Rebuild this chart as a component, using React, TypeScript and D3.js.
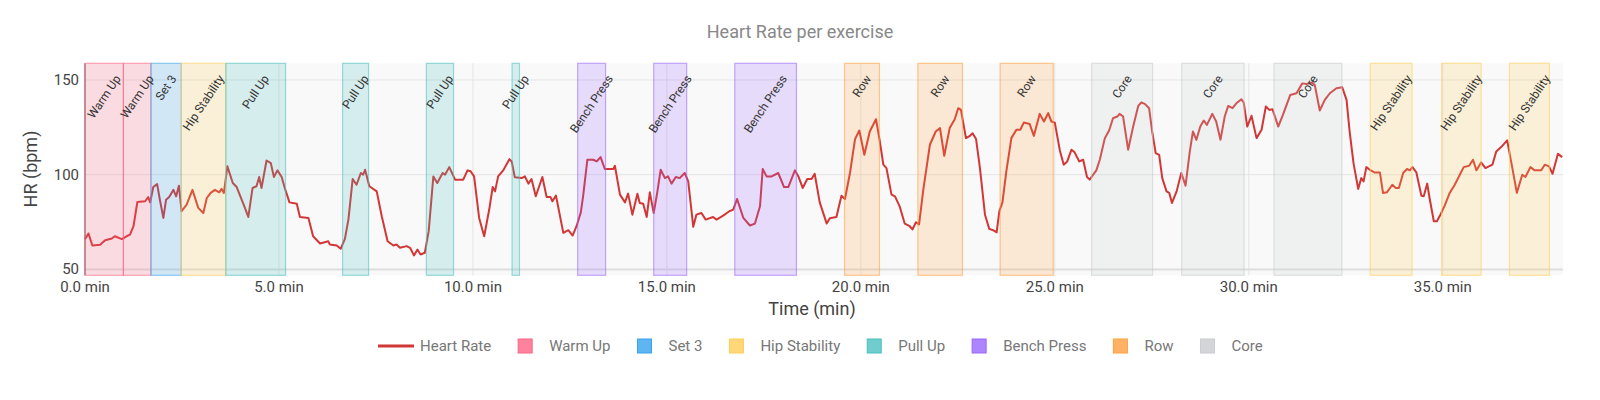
import React from 'react'
import * as d3 from 'd3'

// heart rate samples (minutes, bpm)
const timeMin = [
  0, 0.09, 0.19, 0.39, 0.52, 0.69, 0.77, 0.95, 1.07, 1.16, 1.25, 1.35, 1.55, 1.63, 1.68, 1.76, 1.86, 1.93, 2.02, 2.09,
  2.17, 2.28, 2.35, 2.42, 2.49, 2.62, 2.77, 2.92, 3.05, 3.14, 3.24, 3.35, 3.46, 3.52, 3.58, 3.67, 3.81, 3.91, 4.08, 4.21,
  4.32, 4.42, 4.49, 4.55, 4.68, 4.79, 4.87, 4.96, 5.07, 5.15, 5.27, 5.46, 5.54, 5.76, 5.88, 6.06, 6.27,
  6.31, 6.49, 6.59, 6.7, 6.79, 6.9, 7.0, 7.11, 7.17, 7.22, 7.33, 7.52, 7.65, 7.8, 7.95, 8.03, 8.12, 8.29, 8.38, 8.48,
  8.57, 8.65, 8.76, 8.86, 8.98, 9.08, 9.22, 9.28, 9.39, 9.54, 9.75, 9.86, 9.94, 10.03, 10.16, 10.29, 10.42, 10.51, 10.57,
  10.65, 10.79, 10.94, 11.0, 11.08, 11.26, 11.34, 11.43, 11.51, 11.62, 11.79, 11.9, 12.0, 12.05, 12.14, 12.33, 12.46,
  12.57, 12.67,
  12.78, 12.84, 12.95, 13.1, 13.19, 13.29, 13.4, 13.62, 13.66, 13.79, 13.92, 14.0, 14.11, 14.24, 14.3, 14.39, 14.48,
  14.56, 14.66, 14.75, 14.84, 14.95, 15.03, 15.12, 15.23, 15.33, 15.46, 15.55, 15.68, 15.76, 15.89, 16.0, 16.19, 16.28,
  16.45, 16.61, 16.71, 16.81, 16.97, 17.14, 17.27, 17.4, 17.47, 17.57, 17.7, 17.87, 18.02, 18.13, 18.3, 18.39, 18.5,
  18.62, 18.73, 18.81, 18.94, 19.12, 19.2,
  19.37, 19.5, 19.59, 19.72, 19.85, 19.96, 20.09, 20.23, 20.39, 20.48, 20.58, 20.66, 20.79, 20.88, 21.0, 21.13, 21.26,
  21.33, 21.42, 21.5, 21.61, 21.78, 21.93, 22.04, 22.15, 22.29, 22.42, 22.51, 22.58, 22.71, 22.79, 22.88, 22.97, 23.07,
  23.2, 23.31, 23.41, 23.5, 23.57, 23.65, 23.75, 23.88, 24.01, 24.11, 24.2, 24.35, 24.46, 24.61, 24.72, 24.83, 24.91,
  25.0, 25.13, 25.23, 25.32, 25.43, 25.51, 25.63,
  25.73, 25.83, 25.9, 25.99, 26.07, 26.16, 26.29, 26.4, 26.5, 26.61, 26.67, 26.76, 26.89, 27.02, 27.15, 27.23, 27.32,
  27.43, 27.51, 27.6, 27.69, 27.77, 27.88, 27.95, 28.02, 28.14, 28.26, 28.37, 28.48, 28.56, 28.65, 28.75, 28.84, 28.92,
  29.06, 29.16, 29.27, 29.38, 29.47, 29.58, 29.68, 29.81, 29.87, 29.96, 30.07, 30.2, 30.33, 30.44, 30.53, 30.61, 30.76,
  30.88, 31.07, 31.23, 31.38, 31.49, 31.62, 31.7, 31.76, 31.83, 31.96, 32.09,
  32.26, 32.41, 32.52, 32.6, 32.7, 32.82, 32.9, 32.96, 33.03, 33.12, 33.24, 33.38, 33.46, 33.56, 33.7, 33.79, 33.87,
  33.98, 34.08, 34.15, 34.22, 34.32, 34.45, 34.51, 34.6, 34.66, 34.77, 34.85, 34.94, 35.05, 35.18, 35.31, 35.44, 35.54,
  35.68, 35.78, 35.87, 35.99, 36.1, 36.28, 36.38, 36.54, 36.66, 36.79, 36.91, 37.05, 37.13, 37.26, 37.37, 37.54, 37.63,
  37.74, 37.83, 37.97, 38.08,
]
const heartRate = [
  66, 69, 62.6, 63, 65.4, 66.3, 67.5, 66, 67.5, 68.4, 72.8, 85.6, 86, 88.2, 85.4, 93.5, 95, 86.8, 77.2, 86.8,
  88.2, 92, 88.6, 94.2, 80.7, 84.2, 92, 82.5, 79.8, 87.7, 90.4, 92, 90.7, 92.5, 90.4, 104.4, 95.6, 93.5, 84.7, 77.7,
  93, 93.9, 98.8, 93, 107.5, 106.1, 98.8, 102.3, 98.8, 93, 85.4, 84.7, 77.7, 77.2, 67.5, 63.7, 64.9,
  63.2, 62.6, 60.9, 66.1, 76.3, 97.7, 94.7, 100.9, 100, 102.6, 93.9, 91.2, 78.1, 64.9, 62.6, 63.2, 61.4, 62.3, 61.4, 57.4,
  60.5, 57.9, 58.8, 70.2, 99.1, 95.6, 100.9, 100, 104, 97.4, 97.4, 102.3, 101.8, 99.1, 77.2, 67.5, 81.6, 93.5, 91.2,
  99.1, 102.6, 108.2, 107, 98.6, 98.2, 99.1, 95.3, 97.7, 88.6, 98.8, 88.2, 88.2, 86, 89, 69.3, 70.7,
  67.9, 72.8,
  80, 88.6, 107.9, 107.9, 107, 109.3, 103, 103, 104.7, 89.5, 85.4, 90, 78.9, 90, 85.1, 84.7, 77.7,
  90.7, 79.8, 90.4, 102.6, 98.2, 99.1, 95.3, 98.8, 98.2, 100.9, 96.5, 72.5, 78.9, 79.8, 76.3, 77.7, 76.3,
  78.4, 80.7, 81.6, 87.2, 77.2, 73.2, 74.2, 83.3, 103, 99.1, 99.1, 100.9, 93.5, 93.5, 102.3, 99.1, 93,
  97.7, 97.7, 100.5, 85.4, 74.2, 77,
  77.7, 88.9, 87.2, 100.9, 118.8, 123.3, 110.5, 122.8, 129.3, 118.8, 105.3, 103.5, 89.5, 88.6, 83.3, 74.2, 72.8,
  71.1, 74.9, 73.7, 92.1, 115.8, 122.8, 124.6, 110, 124.6, 129.3, 135.1, 134.2, 119.3, 120.2, 121.9, 118.8, 103.5,
  78.9, 71.4, 70.7, 69.6, 80.7, 85.4, 101.8, 119.3, 123.7, 123.7, 127.5, 126.8, 120.5, 132.1, 128.1, 132.5, 128.1,
  127.5, 112.8, 105.3, 107, 113.2, 111.8, 107,
  107.9, 98.8, 97.4, 100, 102.3, 107.9, 119.3, 123.3, 129.8, 130.7, 132.1, 130.7, 113.2, 125.4, 136.3, 138.1, 137.4,
  135.1, 122.8, 111.4, 110.5, 98.2, 91.2, 90.4, 85.1, 91.2, 100.9, 94.2, 112.3, 122.8, 118.4, 125.4, 128.6, 126.3,
  132.1, 128.1, 118.4, 130.7, 136.3, 135.1, 137.7, 139.8, 138.1, 125.4, 131.1, 119.3, 123.7, 136, 134.2, 134.6, 125.4,
  131.6, 142.1, 143, 148.2, 147.9, 148.6, 147.4, 141.2, 133.9, 139.5, 143,
  145.6, 146.1, 139.5, 122.8, 106.1, 92.5, 98.2, 96.5, 104, 102.6, 101.2, 101.2, 90.4, 90.7, 94.7, 93, 93,
  100.9, 103, 102.3, 104, 101.2, 88.9, 88.6, 95.3, 87.7, 75.4, 75.4, 78.9, 83.7, 90.4, 94.7, 100, 104,
  104.7, 107.9, 102.3, 106.5, 103.5, 105.3, 112.3, 115.3, 118.1, 104, 90.4, 100, 98.8, 104, 102.3, 102.3, 105.3,
  104.4, 100.5, 111, 109.3,
]

// exercise blocks
const blockNames = [
  'Warm Up', 'Warm Up', 'Set 3', 'Hip Stability', 'Pull Up', 'Pull Up', 'Pull Up', 'Pull Up',
  'Bench Press', 'Bench Press', 'Bench Press', 'Row', 'Row', 'Row', 'Core', 'Core', 'Core',
  'Hip Stability', 'Hip Stability', 'Hip Stability',
]
const blockStart = [
  0, 0.99, 1.7, 2.48, 3.63, 6.64, 8.8, 11.01, 12.7, 14.66, 16.75, 19.58, 21.47, 23.59, 25.95, 28.27, 30.65,
  33.13, 34.97, 36.72,
]
const blockEnd = [
  0.99, 1.7, 2.48, 3.63, 5.17, 7.31, 9.5, 11.2, 13.42, 15.51, 18.34, 20.48, 22.62, 24.96, 27.52, 29.88, 32.4,
  34.21, 35.99, 37.75,
]

const exerciseNames = ['Warm Up', 'Set 3', 'Hip Stability', 'Pull Up', 'Bench Press', 'Row', 'Core']
const exerciseColors = [
  '255,99,132', '54,162,235', '255,205,86', '75,192,192', '153,102,255', '255,159,64', '201,203,207',
]

const xTicks = [0, 5, 10, 15, 20, 25, 30, 35]
const yTicks = [50, 100, 150]

const lineColor = '#d23737'
const FONT = 'Roboto, "Noto Sans", sans-serif'

const measureCtx = document.createElement('canvas').getContext('2d')
function textWidth(s: string, size: number) {
  if (!measureCtx) return s.length * size * 0.55
  measureCtx.font = `${size}px Roboto`
  return measureCtx.measureText(s).width
}

const colorOf = (name: string) => exerciseColors[exerciseNames.indexOf(name)]

export default function App() {
  const left = 85
  const right = 1563
  const top = 63.3
  const bottom = 275.3

  const x = d3.scaleLinear().domain([0, 38.1]).range([left, right])
  const y = d3.scaleLinear().domain([46.9, 158.8]).range([bottom, top])

  const pts: [number, number][] = timeMin.map((t, i) => [t, heartRate[i]])
  const path = d3.line<[number, number]>()
    .x(d => x(d[0]))
    .y(d => y(d[1]))(pts)

  const labelAngle = 56
  const rad = (labelAngle * Math.PI) / 180
  const labelSize = 12

  // legend layout: symbol centre, 24px to text, 34px to next symbol
  const legendItems = [{ name: 'Heart Rate', color: '' }, ...exerciseNames.map((n, i) => ({ name: n, color: exerciseColors[i] }))]
  const legendSize = 15
  let cursor = 0
  const placed = legendItems.map(it => {
    const cx = cursor
    const w = textWidth(it.name, legendSize)
    cursor = cx + 24 + w + 34
    return { ...it, cx, w }
  })
  const legendShift = 396

  return (
    <svg width={1600} height={400} style={{ position: 'absolute', left: 0, top: 0, fontFamily: FONT }}>
      <rect x={0} y={0} width={1600} height={400} fill="#fff" />
      <text x={800} y={38} textAnchor="middle" fontSize={18} fill="#888">Heart Rate per exercise</text>

      <rect x={left} y={top} width={right - left} height={bottom - top} fill="#f9f9f9" />
      {xTicks.map(t => (
        <line key={'gx' + t} x1={x(t)} x2={x(t)} y1={top} y2={bottom} stroke="#e4e4e4" strokeWidth={1} />
      ))}
      {yTicks.map(v => (
        <line key={'gy' + v} x1={left} x2={right} y1={y(v)} y2={y(v)} stroke={v === 50 ? '#dedede' : '#e4e4e4'} strokeWidth={v === 50 ? 2 : 1} />
      ))}
      <line x1={left} x2={left} y1={top} y2={bottom} stroke="#555" strokeWidth={1} />

      <path d={path ?? ''} fill="none" stroke={lineColor} strokeWidth={2} strokeLinejoin="round" />

      {blockNames.map((n, i) => (
        <rect
          key={'b' + i}
          x={x(blockStart[i])}
          y={top}
          width={x(blockEnd[i]) - x(blockStart[i])}
          height={bottom - top}
          fill={`rgba(${colorOf(n)},0.2)`}
          stroke={`rgba(${colorOf(n)},0.55)`}
          strokeWidth={1.2}
        />
      ))}

      {blockNames.map((n, i) => {
        const cx = (x(blockStart[i]) + x(blockEnd[i])) / 2
        const w = textWidth(n, labelSize)
        const halfH = (w / 2) * Math.sin(rad) + (labelSize * 0.36) * Math.cos(rad)
        const cy = 74 + halfH
        return (
          <text
            key={'l' + i}
            transform={`translate(${cx},${cy}) rotate(${-labelAngle})`}
            textAnchor="middle"
            dominantBaseline="central"
            fontSize={labelSize}
            fill="#333"
          >
            {n}
          </text>
        )
      })}

      {xTicks.map(t => (
        <text key={'tx' + t} x={x(t)} y={292} textAnchor="middle" fontSize={15} fill="#444">
          {t.toFixed(1)} min
        </text>
      ))}
      {yTicks.map(v => (
        <text key={'ty' + v} x={79} y={y(v)} textAnchor="end" dominantBaseline="central" fontSize={15} fill="#444">
          {v}
        </text>
      ))}
      <text x={812} y={315} textAnchor="middle" fontSize={18} fill="#444">Time (min)</text>
      <text transform="translate(37,169) rotate(-90)" textAnchor="middle" fontSize={18} fill="#444">HR (bpm)</text>

      <g transform={`translate(${legendShift},346)`}>
        {placed.map((it, i) => (
          <g key={'lg' + i}>
            {i === 0 ? (
              <line x1={it.cx - 18} x2={it.cx + 18} y1={0} y2={0} stroke={lineColor} strokeWidth={3} />
            ) : (
              <rect x={it.cx - 7} y={-7} width={14} height={14} fill={`rgba(${it.color},0.8)`} stroke={`rgb(${it.color})`} strokeWidth={1} />
            )}
            <text x={it.cx + 24} y={0} dominantBaseline="central" fontSize={legendSize} fill="#777">
              {it.name}
            </text>
          </g>
        ))}
      </g>
    </svg>
  )
}
